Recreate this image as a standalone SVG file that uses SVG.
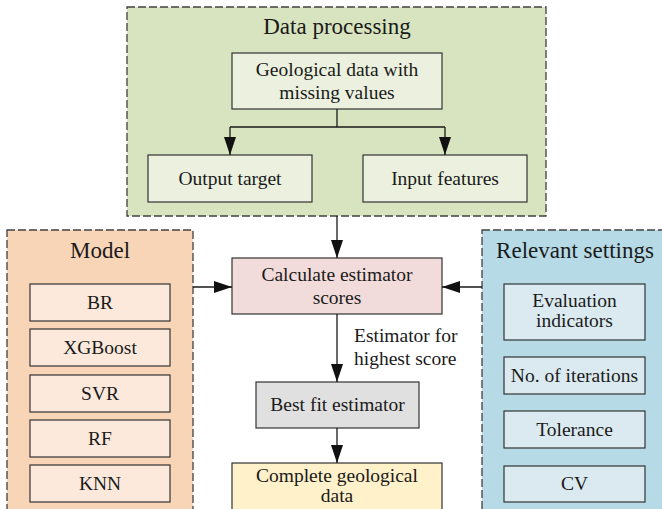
<svg xmlns="http://www.w3.org/2000/svg" width="662" height="509" viewBox="0 0 662 509" font-family="'Liberation Serif', Tinos, 'Times New Roman', 'DejaVu Serif', serif">
<defs>
<style>
text{font-family:'Liberation Serif', Tinos, 'Times New Roman', 'DejaVu Serif', serif;fill:#1a1a1a;text-anchor:middle}
.t{font-size:23px}
.n{font-size:19.5px}
.grp{stroke:#404040;stroke-width:1.3;stroke-dasharray:8,3}
.box{stroke:#333;stroke-width:1.2}
.c{stroke:#1a1a1a;stroke-width:1.3;fill:none}
</style>
<marker id="ah" markerUnits="userSpaceOnUse" markerWidth="18" markerHeight="12" refX="18" refY="6" orient="auto">
<path d="M0,0 L18,6 L0,12 z" fill="#111"/>
</marker>
</defs>
<rect width="662" height="509" fill="#fff"/>

<g id="data-processing">
<rect class="grp" x="127" y="7" width="419" height="209" fill="#d8e4bf"/>
<text class="t" x="337" y="34">Data processing</text>
</g>
<g id="geo-data">
<rect class="box" x="232" y="53" width="210" height="56" fill="#ebf1de"/>
<text class="n" x="337" y="76">Geological data with</text>
<text class="n" x="337" y="99">missing values</text>
</g>
<g id="output-target">
<rect class="box" x="148" y="155" width="164" height="47" fill="#ebf1de"/>
<text class="n" x="230" y="185">Output target</text>
</g>
<g id="input-features">
<rect class="box" x="363" y="155" width="164" height="47" fill="#ebf1de"/>
<text class="n" x="445" y="185">Input features</text>
</g>

<g id="model">
<rect class="grp" x="7" y="230" width="186" height="285" fill="#f9d5b8"/>
<text class="t" x="100" y="258">Model</text>
</g>
<g id="br"><rect class="box" x="30" y="284" width="140" height="37" fill="#fce9dc"/><text class="n" x="100" y="309">BR</text></g>
<g id="xgboost"><rect class="box" x="30" y="329" width="140" height="37" fill="#fce9dc"/><text class="n" x="100" y="354">XGBoost</text></g>
<g id="svr"><rect class="box" x="30" y="375" width="140" height="37" fill="#fce9dc"/><text class="n" x="100" y="400">SVR</text></g>
<g id="rf"><rect class="box" x="30" y="420" width="140" height="37" fill="#fce9dc"/><text class="n" x="100" y="445">RF</text></g>
<g id="knn"><rect class="box" x="30" y="465" width="140" height="37" fill="#fce9dc"/><text class="n" x="100" y="490">KNN</text></g>

<g id="relevant-settings">
<rect class="grp" x="482" y="230" width="190" height="285" fill="#b7dbe6"/>
<text class="t" x="575" y="258">Relevant settings</text>
</g>
<g id="evaluation"><rect class="box" x="504" y="284" width="141" height="56" fill="#daeaf0"/><text class="n" x="574.5" y="307">Evaluation</text><text class="n" x="574.5" y="327">indicators</text></g>
<g id="iterations"><rect class="box" x="504" y="357" width="141" height="37" fill="#daeaf0"/><text class="n" x="574.5" y="382">No. of iterations</text></g>
<g id="tolerance"><rect class="box" x="504" y="411" width="141" height="37" fill="#daeaf0"/><text class="n" x="574.5" y="436">Tolerance</text></g>
<g id="cv"><rect class="box" x="504" y="466" width="141" height="36" fill="#daeaf0"/><text class="n" x="574.5" y="490">CV</text></g>

<g id="calculate">
<rect class="box" x="232" y="258" width="210" height="56" fill="#f2dcdb"/>
<text class="n" x="337" y="281">Calculate estimator</text>
<text class="n" x="337" y="304">scores</text>
</g>
<g id="best-fit">
<rect class="box" x="256" y="382" width="163" height="46" fill="#e0e0e0"/>
<text class="n" x="337.5" y="411">Best fit estimator</text>
</g>
<g id="complete">
<rect class="box" x="232" y="463" width="210" height="56" fill="#fff1c9"/>
<text class="n" x="337" y="482">Complete geological</text>
<text class="n" x="337" y="502">data</text>
</g>

<g id="connectors">
<path class="c" d="M337,109 V127"/>
<path class="c" d="M230,127 H445"/>
<path class="c" d="M230,127 V155" marker-end="url(#ah)"/>
<path class="c" d="M445,127 V155" marker-end="url(#ah)"/>
<path class="c" d="M337,216 V258" marker-end="url(#ah)"/>
<path class="c" d="M193,287 H232" marker-end="url(#ah)"/>
<path class="c" d="M482,287 H442" marker-end="url(#ah)"/>
<path class="c" d="M337,314 V382" marker-end="url(#ah)"/>
<path class="c" d="M337,428 V463" marker-end="url(#ah)"/>
<text class="n" x="354" y="342" style="text-anchor:start">Estimator for</text>
<text class="n" x="354" y="365" style="text-anchor:start">highest score</text>
</g>
</svg>
